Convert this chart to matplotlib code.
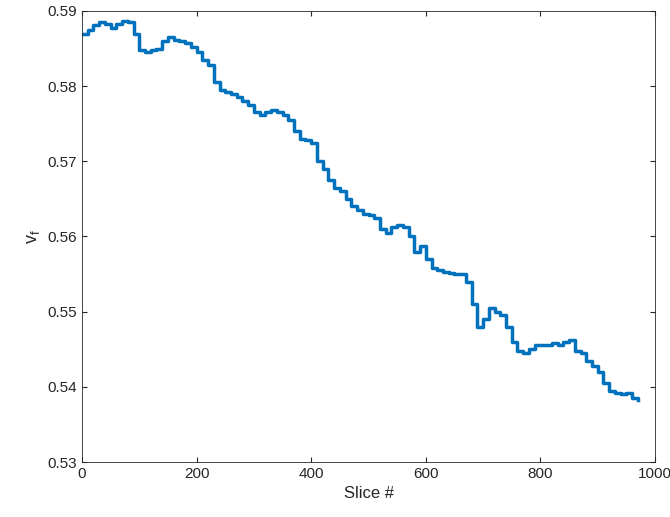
import numpy as np
import matplotlib.pyplot as plt

plt.rcParams['font.family'] = ['Liberation Sans', 'DejaVu Sans']

slices = list(range(0, 980, 10))
vf = [0.5870, 0.5875, 0.5882, 0.5885, 0.5883, 0.5878, 0.5883, 0.5887, 0.5885, 0.5870,
      0.5848, 0.5845, 0.5848, 0.5850, 0.5860, 0.5865, 0.5862, 0.5860, 0.5858, 0.5852,
      0.5845, 0.5835, 0.5828, 0.5805, 0.5795, 0.5792, 0.5790, 0.5785, 0.5780, 0.5775,
      0.5765, 0.5762, 0.5765, 0.5768, 0.5765, 0.5762, 0.5755, 0.5740, 0.5730, 0.5728,
      0.5725, 0.5700, 0.5690, 0.5675, 0.5665, 0.5660, 0.5650, 0.5640, 0.5635, 0.5630,
      0.5628, 0.5625, 0.5610, 0.5605, 0.5612, 0.5615, 0.5612, 0.5600, 0.5580, 0.5588,
      0.5570, 0.5558, 0.5555, 0.5553, 0.5552, 0.5550, 0.5550, 0.5540, 0.5510, 0.5480,
      0.5490, 0.5505, 0.5500, 0.5495, 0.5480, 0.5460, 0.5448, 0.5445, 0.5450, 0.5455,
      0.5455, 0.5455, 0.5458, 0.5455, 0.5460, 0.5462, 0.5448, 0.5445, 0.5435, 0.5428,
      0.5420, 0.5405, 0.5395, 0.5392, 0.5390, 0.5392, 0.5385, 0.5383]

fig = plt.figure(figsize=(6.7, 5.17), dpi=100)
ax = fig.add_axes([82/670, 55/517, 573/670, 451/517])
ax.plot(slices, vf, color="#0072BD", linewidth=2.5, drawstyle="steps-post")
ax.set_xlim(0, 1000)
ax.set_ylim(0.53, 0.59)
ax.set_xticks(range(0, 1001, 200))
ax.set_yticks(np.arange(0.53, 0.5901, 0.01))
ax.set_yticklabels([f"{v:.2f}" for v in np.arange(0.53, 0.5901, 0.01)])
ax.tick_params(direction="in", top=True, right=True, labelsize=11, colors="#262626")
for s in ax.spines.values():
    s.set_color("#262626")
    s.set_linewidth(0.6)
ax.set_xlabel("Slice #", fontsize=12, color="#262626")
ax.set_ylabel("$\\mathregular{v_f}$", fontsize=13, color="#262626")
fig.savefig("out.png")
